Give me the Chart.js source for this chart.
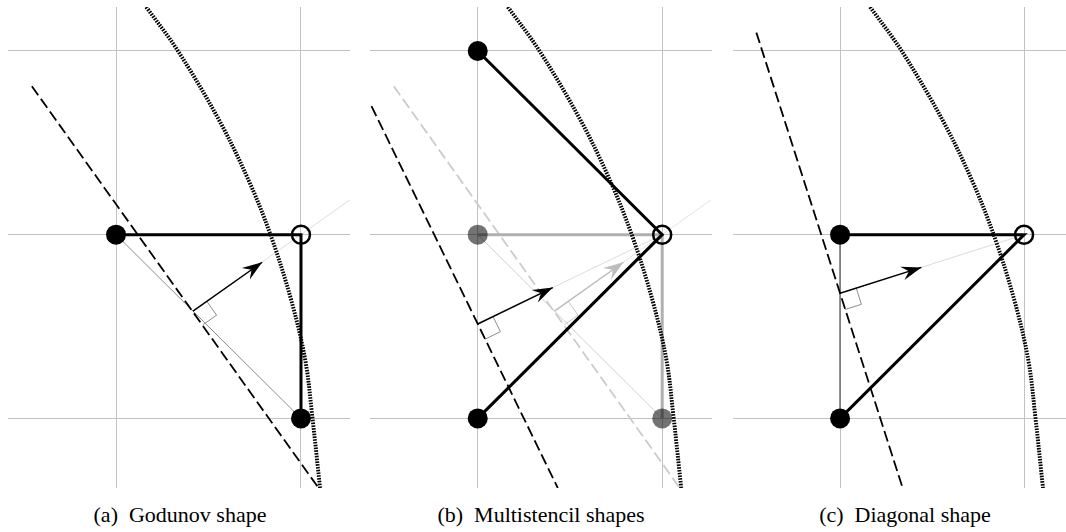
<!DOCTYPE html>
<html>
<head>
<meta charset="utf-8">
<script src="https://cdn.jsdelivr.net/npm/chart.js@4/dist/chart.umd.min.js"></script>
<style>
  html, body { margin: 0; padding: 0; background: #fff; width: 1066px; height: 532px; overflow: hidden; }
  body { position: relative; }
  canvas { position: absolute; }
  .cap { position: absolute; top: 504px; font-family: "Liberation Serif", "DejaVu Serif", serif; font-size: 22px;
         line-height: 22px; color: #000; transform: translateX(-50%); white-space: pre; }
</style>
</head>
<body>
<canvas id="panelA" width="342" height="481" style="left:8px;top:7px"></canvas>
<canvas id="panelB" width="342" height="481" style="left:370px;top:7px"></canvas>
<canvas id="panelC" width="333" height="481" style="left:733px;top:7px"></canvas>
<div class="cap" id="capA" style="left:180px"></div>
<div class="cap" id="capB" style="left:541px"></div>
<div class="cap" id="capC" style="left:905px"></div>
<script>
// ---- shared mesh and interface (cell units) ----
const GRID_X = [0, 1];
const GRID_Y = [-1, 0, 1];
const VIEW_Y = [-1.379, 1.2395];
const VIEW_X_A = [-0.584, 1.265];
const VIEW_X_B = [-0.584, 1.27];
const VIEW_X_C = [-0.582, 1.228];

// curved interface (dotted)
const interfaceX = [0.163, 0.335, 0.557, 0.716, 0.835, 0.946, 1.023, 1.062, 1.103];
const interfaceY = [1.24, 1.0, 0.624, 0.298, 0.0, -0.352, -0.682, -0.997, -1.379];

// the cell whose value is being updated (open circle)
const targetX = [1];
const targetY = [0];

// ---- (a) Godunov shape ----
const godunovStencilX = [0, 1, 1];
const godunovStencilY = [0, 0, -1];
const godunovNodesX = [0, 1];
const godunovNodesY = [0, -1];
const godunovDiagX = [0, 1];
const godunovDiagY = [0, -1];
const godunovFrontX = [-0.455, 1.095];
const godunovFrontY = [0.808, -1.379];
const godunovArrowX = [0.416, 0.790];
const godunovArrowY = [-0.416, -0.150];
const godunovNormalX = [0.416, 1.265];
const godunovNormalY = [-0.416, 0.19];
const godunovCornerX = [0.491, 0.544, 0.469];
const godunovCornerY = [-0.363, -0.438, -0.491];

// ---- (b) Multistencil shapes ----
const multiStencilX = [0, 1, 0];
const multiStencilY = [1, 0, -1];
const multiNodesX = [0, 0];
const multiNodesY = [1, -1];
const multiFrontX = [-0.576, 0.434];
const multiFrontY = [0.70, -1.379];
const multiArrowX = [0, 0.407];
const multiArrowY = [-0.486, -0.288];
const multiNormalX = [0, 1];
const multiNormalY = [-0.486, 0];
const multiCornerX = [0.083, 0.123, 0.040];
const multiCornerY = [-0.446, -0.528, -0.569];

// ---- (c) Diagonal shape ----
const diagStencilX = [0, 1, 0];
const diagStencilY = [0, 0, -1];
const diagNodesX = [0, 0];
const diagNodesY = [0, -1];
const diagEdgeX = [0, 0];
const diagEdgeY = [0, -1];
const diagFrontX = [-0.455, 0.34];
const diagFrontY = [1.10, -1.379];
const diagArrowX = [0, 0.442];
const diagArrowY = [-0.319, -0.178];
const diagNormalX = [0, 1];
const diagNormalY = [-0.319, 0];
const diagCornerX = [0.088, 0.116, 0.028];
const diagCornerY = [-0.291, -0.379, -0.407];

const captions = ['(a)\u2002Godunov shape', '(b)\u2002Multistencil shapes', '(c)\u2002Diagonal shape'];

// ---- styling ----
const GRID_COLOR = '#c2c2c2';
const BLACK = '#000000';

const pts = (xs, ys) => xs.map((x, i) => ({ x, y: ys[i] }));

function path(xs, ys, color, width, dash, extra) {
  return Object.assign({
    data: pts(xs, ys), showLine: true, borderColor: color, borderWidth: width,
    borderDash: dash || [], borderCapStyle: 'butt', borderJoinStyle: 'miter',
    pointRadius: 0, pointHoverRadius: 0, fill: false, tension: 0
  }, extra || {});
}
function dots(xs, ys, color, r) {
  return {
    data: pts(xs, ys), showLine: false, pointRadius: r, pointHoverRadius: r,
    pointBackgroundColor: color, pointBorderColor: color, pointBorderWidth: 0
  };
}
function ring(xs, ys, r, w) {
  return {
    data: pts(xs, ys), showLine: false, pointRadius: r, pointHoverRadius: r,
    pointBackgroundColor: 'rgba(0,0,0,0)', pointBorderColor: BLACK, pointBorderWidth: w
  };
}
function interfaceCurve() {
  return path(interfaceX, interfaceY, BLACK, 3.9, [1.6, 1.2], { tension: 0.35 });
}

// stealth arrowhead at the last point of datasets flagged with arrowHead
const arrowHeads = {
  id: 'arrowHeads',
  afterDatasetDraw(chart, args) {
    const ds = chart.data.datasets[args.index];
    if (!ds.arrowHead) return;
    const el = args.meta.data;
    const a = el[el.length - 2], b = el[el.length - 1];
    const ang = Math.atan2(b.y - a.y, b.x - a.x);
    const L = 20, W = 7, N = 13;
    const ctx = chart.ctx;
    ctx.save();
    ctx.translate(b.x, b.y);
    ctx.rotate(ang);
    ctx.fillStyle = ds.borderColor;
    ctx.beginPath();
    ctx.moveTo(0, 0);
    ctx.lineTo(-L, -W);
    ctx.lineTo(-N, 0);
    ctx.lineTo(-L, W);
    ctx.closePath();
    ctx.fill();
    ctx.restore();
  }
};

function makePanel(id, viewX, layers) {
  // layers are listed bottom to top
  layers.forEach((ds, i) => { ds.order = -i; });
  const axis = (range, grid) => ({
    type: 'linear', min: range[0], max: range[1],
    afterBuildTicks: s => { s.ticks = grid.map(v => ({ value: v })); },
    ticks: { display: false },
    grid: { color: GRID_COLOR, lineWidth: 1, drawTicks: false },
    border: { display: false }
  });
  return new Chart(document.getElementById(id), {
    type: 'scatter',
    data: { datasets: layers },
    options: {
      responsive: false, animation: false, events: [],
      layout: { padding: 0, autoPadding: false },
      plugins: { legend: { display: false }, tooltip: { enabled: false } },
      scales: { x: axis(viewX, GRID_X), y: axis(VIEW_Y, GRID_Y) }
    },
    plugins: [arrowHeads]
  });
}

// (a)
makePanel('panelA', VIEW_X_A, [
  path(godunovNormalX, godunovNormalY, '#dcdcdc', 1),
  path(godunovDiagX, godunovDiagY, '#8c8c8c', 1),
  path(godunovCornerX, godunovCornerY, '#8c8c8c', 1),
  path(godunovFrontX, godunovFrontY, BLACK, 1.8, [11, 4.5]),
  interfaceCurve(),
  path(godunovArrowX, godunovArrowY, BLACK, 1.5, [], { arrowHead: true }),
  path(godunovStencilX, godunovStencilY, BLACK, 3),
  dots(godunovNodesX, godunovNodesY, BLACK, 10),
  ring(targetX, targetY, 9, 2.5)
]);

// (b)
makePanel('panelB', VIEW_X_B, [
  path(godunovNormalX, godunovNormalY, '#e2e2e2', 1),
  path(godunovDiagX, godunovDiagY, '#d0d0d0', 1),
  path(godunovCornerX, godunovCornerY, '#c8c8c8', 1),
  path(godunovFrontX, godunovFrontY, '#cbcbcb', 1.8, [11, 4.5]),
  path(godunovArrowX, godunovArrowY, '#bdbdbd', 1.5, [], { arrowHead: true }),
  path(godunovStencilX, godunovStencilY, '#b0b0b0', 3),
  dots(godunovNodesX, godunovNodesY, 'rgba(0,0,0,0.55)', 10),
  path(multiNormalX, multiNormalY, '#dcdcdc', 1),
  path(multiCornerX, multiCornerY, '#8c8c8c', 1),
  path(multiFrontX, multiFrontY, BLACK, 1.8, [11, 4.5]),
  interfaceCurve(),
  path(multiArrowX, multiArrowY, BLACK, 1.5, [], { arrowHead: true }),
  path(multiStencilX, multiStencilY, BLACK, 3),
  dots(multiNodesX, multiNodesY, BLACK, 10),
  ring(targetX, targetY, 9, 2.5)
]);

// (c)
makePanel('panelC', VIEW_X_C, [
  path(diagNormalX, diagNormalY, '#dcdcdc', 1),
  path(diagEdgeX, diagEdgeY, '#7a7a7a', 1),
  path(diagCornerX, diagCornerY, '#8c8c8c', 1),
  path(diagFrontX, diagFrontY, BLACK, 1.8, [11, 4.5]),
  interfaceCurve(),
  path(diagArrowX, diagArrowY, BLACK, 1.5, [], { arrowHead: true }),
  path(diagStencilX, diagStencilY, BLACK, 3),
  dots(diagNodesX, diagNodesY, BLACK, 10),
  ring(targetX, targetY, 9, 2.5)
]);

['capA', 'capB', 'capC'].forEach((id, i) => { document.getElementById(id).textContent = captions[i]; });
</script>
</body>
</html>
